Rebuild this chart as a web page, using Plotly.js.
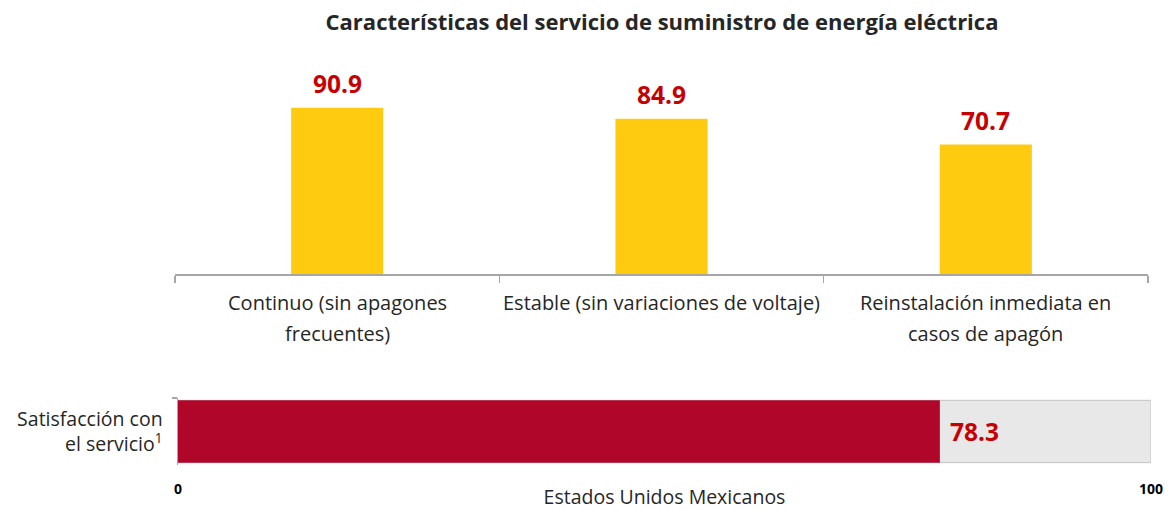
<!DOCTYPE html>
<html><head><meta charset="utf-8">
<script src="https://cdn.plot.ly/plotly-3.0.1.min.js"></script>
<style>html,body{margin:0;padding:0;background:#fff}#c{width:1173px;height:510px}</style>
</head><body><div id="c"></div>
<script>
const categories = ["Continuo (sin apagones\nfrecuentes)", "Estable (sin variaciones de voltaje)", "Reinstalación inmediata en\ncasos de apagón"];
const values = [90.9, 84.9, 70.7];
const satisCategory = ["Satisfacción con<br>el servicio<sup>1</sup>"];
const satisValue = [78.3];
const scaleMax = [100];
const bottomTicks = [0, 100];
const chartTitle = "Características del servicio de suministro de energía eléctrica";
const bottomAxisTitle = "Estados Unidos Mexicanos";

const FONT = "'Open Sans', 'Noto Sans', sans-serif";
const RED = "#C80000";
const W = 1173, H = 510;
const px = v => v / W, py = v => 1 - v / H;

const traces = [
  {type:'bar', x:categories, y:values, xaxis:'x', yaxis:'y', width:0.284,
   marker:{color:'#FFCB10'}, hoverinfo:'skip'},
  {type:'bar', orientation:'h', x:scaleMax, y:satisCategory, xaxis:'x2', yaxis:'y2', width:0.93,
   marker:{color:'#E8E8E8', line:{color:'#C4C4C4', width:1}}, hoverinfo:'skip'},
  {type:'bar', orientation:'h', x:satisValue, y:satisCategory, xaxis:'x2', yaxis:'y2', width:0.93,
   marker:{color:'#AF0629'}, hoverinfo:'skip'}
];

const annotations = [];
values.forEach((v,i)=>{
  annotations.push({x:categories[i], y:v, xref:'x', yref:'y', text:'<b>'+v.toFixed(1)+'</b>',
    showarrow:false, yanchor:'bottom', yshift:6, font:{family:FONT, size:24.5, color:RED}});
  const lines = categories[i].split('\n');
  lines.forEach((ln,j)=>{
    annotations.push({x:categories[i], xref:'x', yref:'paper', y:py(302 + j*31), text:ln,
      showarrow:false, yanchor:'middle', font:{family:FONT, size:20, color:'#262626'}});
  });
});
satisValue.forEach((v,i)=>{
  annotations.push({x:v, y:satisCategory[i], xref:'x2', yref:'y2', text:'<b>'+v.toFixed(1)+'</b>',
    showarrow:false, xanchor:'left', xshift:8, font:{family:FONT, size:24.5, color:RED}});
});

const layout = {
  width:W, height:H, margin:{l:0,r:0,t:0,b:0},
  paper_bgcolor:'#fff', plot_bgcolor:'rgba(0,0,0,0)',
  showlegend:false, barmode:'overlay',
  font:{family:FONT, color:'#262626'},
  title:{text:'<b>'+chartTitle+'</b>', x:px(662), xanchor:'center', y:py(22), yanchor:'middle',
    font:{family:FONT, size:22, color:'#262626'}},
  xaxis:{domain:[px(175), px(1148)], anchor:'y', showline:true, linecolor:'#A6A6A6', linewidth:1.5,
    ticks:'outside', tickson:'boundaries', ticklen:7, tickcolor:'#A6A6A6', tickwidth:1.5,
    showticklabels:false, showgrid:false, zeroline:false, fixedrange:true},
  yaxis:{domain:[py(274), py(91)], anchor:'x', range:[0,100], visible:false, fixedrange:true},
  xaxis2:{domain:[px(178), px(1151)], anchor:'y2', range:[0,100], tickvals:bottomTicks,
    ticktext:bottomTicks.map(t=>'<b>'+t+'</b>'), ticks:'', ticklabelstandoff:14,
    tickfont:{family:FONT, size:14, color:'#000'},
    showgrid:true, gridcolor:'#A6A6A6', gridwidth:1.5, zeroline:false, showline:false,
    title:{text:bottomAxisTitle, standoff:0, font:{family:FONT, size:19.5, color:'#262626'}}, fixedrange:true},
  yaxis2:{domain:[py(465), py(398)], anchor:'x2', showline:true, linecolor:'#A6A6A6', linewidth:1.5,
    ticks:'outside', tickson:'boundaries', ticklen:5, tickcolor:'#A6A6A6', tickwidth:1.5,
    tickfont:{family:FONT, size:19.5, color:'#262626'}, ticklabelstandoff:10, fixedrange:true},
  annotations:annotations
};
Plotly.newPlot('c', traces, layout, {displayModeBar:false, staticPlot:true});
</script></body></html>
